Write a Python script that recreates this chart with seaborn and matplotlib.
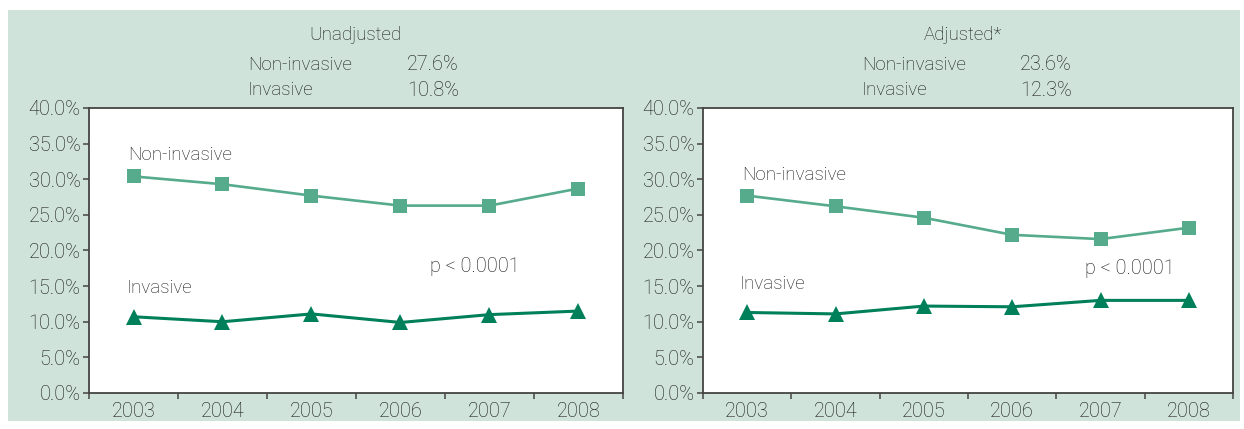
import matplotlib
matplotlib.use("Agg")
import matplotlib.pyplot as plt
import seaborn as sns
import pandas as pd
from matplotlib.patches import Rectangle
from matplotlib.ticker import FixedLocator

# ---- data -------------------------------------------------------------
years = ["2003", "2004", "2005", "2006", "2007", "2008"]

unadj_noninvasive = [30.4, 29.3, 27.7, 26.3, 26.3, 28.7]
unadj_invasive = [10.7, 10.0, 11.1, 9.9, 11.0, 11.5]

adj_noninvasive = [27.7, 26.2, 24.6, 22.2, 21.6, 23.2]
adj_invasive = [11.3, 11.1, 12.2, 12.1, 13.0, 13.0]

panel_titles = ["Unadjusted", "Adjusted*"]
overall_noninvasive = ["27.6%", "23.6%"]
overall_invasive = ["10.8%", "12.3%"]
p_label = "p < 0.0001"

y_ticks = [0, 5, 10, 15, 20, 25, 30, 35, 40]

# ---- style ------------------------------------------------------------
sns.set_theme(style="white")
plt.rcParams["font.family"] = ["Roboto", "DejaVu Sans"]
plt.rcParams["font.weight"] = "light"

BG = "#cfe3db"
C_NON = "#55ab8b"
C_INV = "#00805a"
TXT = "#151515"
SPINE = "#444444"
FS = 13.5      # words
FS_NUM = 14.3  # numbers

W, H = 1244, 429
fig = plt.figure(figsize=(W / 100, H / 100), dpi=100)
fig.patch.set_facecolor("white")
fig.add_artist(Rectangle((8 / W, 1 - 421 / H), (1240 - 8) / W, (421 - 10) / H,
                         transform=fig.transFigure, facecolor=BG,
                         edgecolor="none", zorder=0))


def px_axes(x0, x1, y0, y1):
    return fig.add_axes([x0 / W, 1 - y1 / H, (x1 - x0) / W, (y1 - y0) / H])


axes = [px_axes(89, 623, 108, 393), px_axes(703, 1233, 108, 393)]

series = [(unadj_noninvasive, unadj_invasive), (adj_noninvasive, adj_invasive)]
label_pos = [
    # (non-invasive label, invasive label, p-value label) in data coords
    ((-0.06, 33.4), (-0.08, 14.7), (3.33, 17.7)),
    ((-0.06, 30.6), (-0.08, 15.3), (3.83, 17.5)),
]

for i, ax in enumerate(axes):
    non, inv = series[i]
    df = pd.DataFrame({"pos": range(len(years)), "non": non, "inv": inv})
    sns.lineplot(data=df, x="pos", y="non", ax=ax, color=C_NON, lw=1.9,
                 marker="s", markersize=9.5, markeredgecolor=C_NON,
                 markeredgewidth=0)
    sns.lineplot(data=df, x="pos", y="inv", ax=ax, color=C_INV, lw=2.2,
                 marker="^", markersize=12, markeredgecolor=C_INV,
                 markeredgewidth=0)

    ax.set_facecolor("white")
    ax.set_xlim(-0.5, len(years) - 0.5)
    ax.set_ylim(0, 40)
    ax.set_xlabel("")
    ax.set_ylabel("")

    ax.yaxis.set_major_locator(FixedLocator(y_ticks))
    ax.set_yticklabels([f"{v:.1f}%" for v in y_ticks])
    ax.set_xticks(range(len(years)))
    ax.set_xticklabels(years)
    ax.set_xticks([k - 0.5 for k in range(len(years) + 1)], minor=True)

    ax.tick_params(axis="x", which="major", length=0, pad=6.5,
                   labelsize=FS_NUM, labelcolor=TXT)
    ax.tick_params(axis="x", which="minor", length=4, width=1.1,
                   color=SPINE, direction="out", bottom=True)
    ax.tick_params(axis="y", which="major", length=4, width=1.1,
                   color=SPINE, direction="out", left=True, pad=2,
                   labelsize=FS_NUM, labelcolor=TXT)
    for s in ax.spines.values():
        s.set_visible(True)
        s.set_color(SPINE)
        s.set_linewidth(1.3)

    (nx, ny), (ix, iy), (px, py) = label_pos[i]
    ax.text(nx, ny, "Non-invasive", fontsize=FS, color=TXT, va="center")
    ax.text(ix, iy, "Invasive", fontsize=FS, color=TXT, va="center")
    ax.text(px, py, p_label, fontsize=FS_NUM, color=TXT, va="center")

# panel headers with overall rates
header_cx = [355, 963]
header_name_x = [248, 862]
header_val_x = [407, 1020]
for i in range(2):
    fig.text(header_cx[i] / W, 1 - 35 / H, panel_titles[i], fontsize=FS,
             color=TXT, ha="center", va="center")
    fig.text(header_name_x[i] / W, 1 - 65 / H, "Non-invasive", fontsize=FS,
             color=TXT, ha="left", va="center")
    fig.text(header_val_x[i] / W, 1 - 65 / H, overall_noninvasive[i],
             fontsize=FS_NUM, color=TXT, ha="left", va="center")
    fig.text(header_name_x[i] / W, 1 - 90 / H, "Invasive", fontsize=FS,
             color=TXT, ha="left", va="center")
    fig.text(header_val_x[i] / W, 1 - 90 / H, overall_invasive[i],
             fontsize=FS_NUM, color=TXT, ha="left", va="center")

fig.savefig("out.png", dpi=100)
